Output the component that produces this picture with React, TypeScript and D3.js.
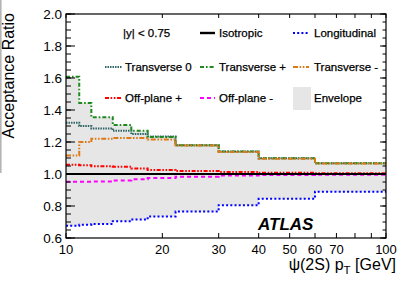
import React from 'react';
import * as d3 from 'd3';

// bin edges in pT [GeV] and acceptance ratio per bin
const binEdges = [10, 11, 12, 14, 16, 18, 22, 30, 40, 60, 100];
const isotropic = [1, 1, 1, 1, 1, 1, 1, 1, 1, 1];
const longitudinal = [0.677, 0.683, 0.688, 0.705, 0.715, 0.735, 0.765, 0.805, 0.845, 0.889];
const transverse0 = [1.32, 1.3, 1.285, 1.27, 1.25, 1.235, 1.18, 1.14, 1.098, 1.067];
const transversePlus = [1.608, 1.444, 1.355, 1.306, 1.27, 1.232, 1.18, 1.14, 1.098, 1.067];
const transverseMinus = [1.115, 1.2, 1.22, 1.225, 1.225, 1.215, 1.178, 1.138, 1.096, 1.066];
const offPlanePlus = [1.058, 1.055, 1.048, 1.045, 1.035, 1.025, 1.018, 1.012, 1.008, 1.005];
const offPlaneMinus = [0.952, 0.952, 0.953, 0.96, 0.967, 0.975, 0.983, 0.99, 0.993, 0.995];

const xTicks = [10, 20, 30, 40, 50, 60, 70, 80, 90, 100];
const xTickLabels = ['10', '20', '30', '40', '50', '60', '70', '', '', '100'];
const yMajor = [0.6, 0.8, 1.0, 1.2, 1.4, 1.6, 1.8, 2.0];
const yMinor = d3.range(0, 29).map((i) => 0.6 + i * 0.05);

const font = '"Liberation Sans", Arial, Helvetica, sans-serif';

const App = () => {
  const left = 66, right = 386, top = 14, bottom = 238;
  const x = d3.scaleLog().domain([10, 100]).range([left, right]);
  const y = d3.scaleLinear().domain([0.6, 2.0]).range([bottom, top]);

  const allSeries = [isotropic, longitudinal, transverse0, transversePlus, transverseMinus, offPlanePlus, offPlaneMinus];
  const lo = isotropic.map((_, i) => d3.min(allSeries, (s) => s[i]) as number);
  const hi = isotropic.map((_, i) => d3.max(allSeries, (s) => s[i]) as number);

  const pts = (vals: number[]) => binEdges.map((e, i) => ({ e, v: vals[Math.min(i, vals.length - 1)] }));

  const line = d3.line<{ e: number; v: number }>()
    .x((d) => x(d.e))
    .y((d) => y(d.v))
    .curve(d3.curveStepAfter);

  const envArea = d3.area<{ e: number; i: number }>()
    .x((d) => x(d.e))
    .y0((d) => y(lo[Math.min(d.i, lo.length - 1)]))
    .y1((d) => y(hi[Math.min(d.i, hi.length - 1)]))
    .curve(d3.curveStepAfter);

  const styles = {
    longitudinal: { stroke: '#0000ff', dash: '2,2.2' },
    transverse0: { stroke: '#2f6565', dash: '1.5,1' },
    transversePlus: { stroke: '#1e8a1e', dash: '4,2,1.6,2' },
    transverseMinus: { stroke: '#dd7a18', dash: '5,1.6,1.6,1.6,1.6,1.6' },
    offPlanePlus: { stroke: '#ff0000', dash: '4,1.6,1.6,1.6,1.6,1.6' },
    offPlaneMinus: { stroke: '#ff00ff', dash: '4,3' },
  };

  const series = [
    { vals: transverse0, st: styles.transverse0 },
    { vals: transversePlus, st: styles.transversePlus },
    { vals: transverseMinus, st: styles.transverseMinus },
    { vals: offPlanePlus, st: styles.offPlanePlus },
    { vals: offPlaneMinus, st: styles.offPlaneMinus },
    { vals: longitudinal, st: styles.longitudinal },
  ];

  const legendRows = [33, 67, 98];
  const legendCols = [{ x0: 105, x1: 122, tx: 125 }, { x0: 200, x1: 215, tx: 219 }, { x0: 293, x1: 309, tx: 314 }];
  const legend = [
    { r: 0, c: 1, label: 'Isotropic', st: { stroke: '#000', dash: '' }, w: 2.4 },
    { r: 0, c: 2, label: 'Longitudinal', st: styles.longitudinal, w: 2 },
    { r: 1, c: 0, label: 'Transverse 0', st: styles.transverse0, w: 2 },
    { r: 1, c: 1, label: 'Transverse +', st: styles.transversePlus, w: 2 },
    { r: 1, c: 2, label: 'Transverse -', st: styles.transverseMinus, w: 2 },
    { r: 2, c: 0, label: 'Off-plane +', st: styles.offPlanePlus, w: 2 },
    { r: 2, c: 1, label: 'Off-plane -', st: styles.offPlaneMinus, w: 2 },
  ];

  const legendText = { fontSize: 11.5, stroke: '#000', strokeWidth: 0.25 };

  return (
    <svg width={407} height={284} style={{ position: 'absolute', left: 0, top: 0, background: '#fff' }} fontFamily={font}>
      <rect x={0} y={0} width={1.6} height={173} fill="#b5b5b5" />
      {/* envelope */}
      <path d={envArea(binEdges.map((e, i) => ({ e, i }))) || ''} fill="#e6e6e6" stroke="none" />
      {series.map((s, k) => (
        <path key={k} d={line(pts(s.vals)) || ''} fill="none" stroke={s.st.stroke} strokeWidth={2} strokeDasharray={s.st.dash} />
      ))}
      <path d={line(pts(isotropic)) || ''} fill="none" stroke="#000" strokeWidth={2.2} />

      {/* frame */}
      <rect x={left} y={top} width={right - left} height={bottom - top} fill="none" stroke="#000" strokeWidth={1.2} />

      {/* x ticks */}
      {xTicks.map((t, i) => (
        <g key={'xt' + i}>
          <line x1={x(t)} x2={x(t)} y1={bottom} y2={bottom - 5} stroke="#000" strokeWidth={1} />
          <line x1={x(t)} x2={x(t)} y1={top} y2={top + 4} stroke="#000" strokeWidth={1} />
          {xTickLabels[i] && (
            <text x={x(t)} y={254} textAnchor="middle" fontSize={13}>{xTickLabels[i]}</text>
          )}
        </g>
      ))}

      {/* y ticks */}
      {yMinor.map((t, i) => (
        <g key={'ym' + i}>
          <line x1={left} x2={left + 5} y1={y(t)} y2={y(t)} stroke="#000" strokeWidth={1} />
          <line x1={right} x2={right - 3.5} y1={y(t)} y2={y(t)} stroke="#000" strokeWidth={1} />
        </g>
      ))}
      {yMajor.map((t, i) => (
        <g key={'yM' + i}>
          <line x1={left} x2={left + 9} y1={y(t)} y2={y(t)} stroke="#000" strokeWidth={1} />
          <line x1={right} x2={right - 6} y1={y(t)} y2={y(t)} stroke="#000" strokeWidth={1} />
          <text x={62} y={y(t) + 5} textAnchor="end" fontSize={13.5}>{t.toFixed(1)}</text>
        </g>
      ))}

      {/* axis titles */}
      <text transform="translate(14,13) rotate(-90)" textAnchor="end" fontSize={16}>Acceptance Ratio</text>
      <text x={396} y={270} textAnchor="end" fontSize={16}>
        ψ(2S) p<tspan fontSize={11.5} dy={4}>T</tspan><tspan dy={-4}> [GeV]</tspan>
      </text>

      {/* legend */}
      <text x={123} y={legendRows[0] + 4} {...legendText}>|y| &lt; 0.75</text>
      {legend.map((l, i) => {
        const c = legendCols[l.c];
        const ry = legendRows[l.r];
        return (
          <g key={'lg' + i}>
            <line x1={c.x0} x2={c.x1} y1={ry} y2={ry} stroke={l.st.stroke} strokeWidth={l.w} strokeDasharray={l.st.dash} />
            <text x={c.tx} y={ry + 4} {...legendText}>{l.label}</text>
          </g>
        );
      })}
      <rect x={293} y={87} width={18} height={23} fill="#e6e6e6" />
      <text x={314} y={legendRows[2] + 4} {...legendText}>Envelope</text>

      <text x={258} y={230} fontSize={17} fontWeight="bold" fontStyle="italic">ATLAS</text>
    </svg>
  );
};

export default App;
